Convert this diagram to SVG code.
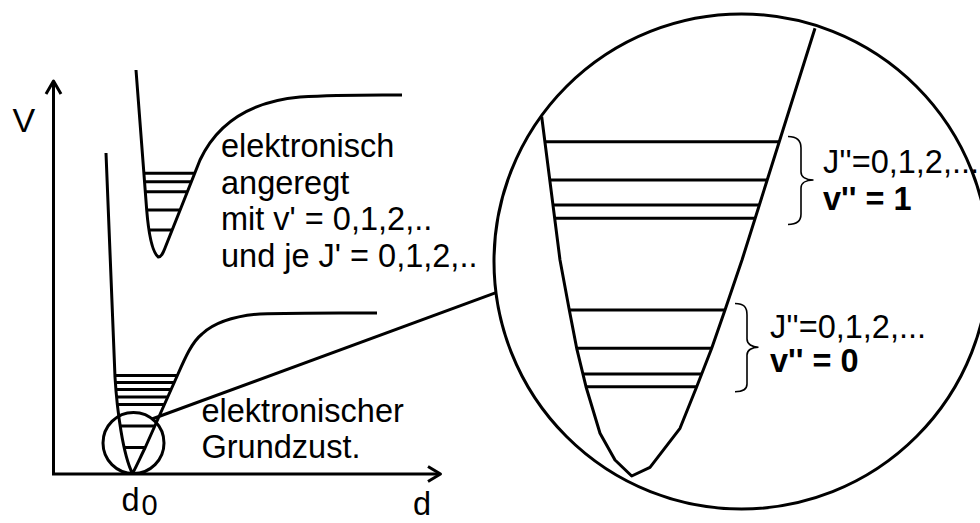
<svg xmlns="http://www.w3.org/2000/svg" width="980" height="523" viewBox="0 0 980 523">
<style>
.ln{fill:none;stroke:#000;stroke-width:3;stroke-linejoin:round;stroke-linecap:butt}
.br{fill:none;stroke:#000;stroke-width:1.6}
.t{font-family:"Liberation Sans",Arial,sans-serif;font-size:32.5px;fill:#000}
.b{font-weight:bold}
</style>
<rect width="980" height="523" fill="#fff"/>
<g id="axes">
<line class="ln" x1="53.5" y1="474" x2="53.5" y2="82"/>
<polyline class="ln" points="46,94 53.5,81 61,94"/>
<line class="ln" x1="52" y1="474" x2="439" y2="474"/>
<polyline class="ln" points="428,466.5 440.5,474 428,481.5"/>
<text class="t" x="12.5" y="131.5" style="font-size:34px">V</text>
<text class="t" x="121.5" y="511">d</text>
<text class="t" x="141.5" y="515" style="font-size:29px">0</text>
<text class="t" x="413" y="515">d</text>
</g>
<g id="excited">
<path class="ln" d="M136,70 L146.7,210 C148.5,232 152,252 158.3,257 C161.5,257 163,253 165,248 L200,160 C215,128 245,102 300,97 C340,94.5 370,95 402,95"/>
<g class="ln">
<line x1="143.5" y1="173.3" x2="195" y2="173.3"/>
<line x1="144.5" y1="181.7" x2="191" y2="181.7"/>
<line x1="145.2" y1="191.7" x2="187" y2="191.7"/>
<line x1="146.7" y1="210" x2="180" y2="210"/>
<line x1="149.3" y1="230" x2="172" y2="230"/>
</g>
<text class="t" x="221" y="157">elektronisch</text>
<text class="t" x="221" y="193.5">angeregt</text>
<text class="t" x="221" y="230">mit v' = 0,1,2,..</text>
<text class="t" x="221" y="266.5">und je J' = 0,1,2,..</text>
</g>
<g id="ground">
<path class="ln" d="M106,153 L115,377 C117,410 123,455 132.5,473.5 C137,465 141,456 145,448 L178,374 C185,358 192,342 202,334 C215,322 235,316 260,314 C300,312.5 340,313 377,313"/>
<g class="ln">
<line x1="115" y1="375.5" x2="177" y2="375.5"/>
<line x1="115.3" y1="382.5" x2="174" y2="382.5"/>
<line x1="115.8" y1="389.5" x2="171" y2="389.5"/>
<line x1="116.4" y1="397" x2="167.7" y2="397"/>
<line x1="117" y1="404.5" x2="164.4" y2="404.5"/>
<line x1="119.5" y1="426" x2="154.8" y2="426"/>
<line x1="124" y1="447.5" x2="145.2" y2="447.5"/>
</g>
<circle class="ln" cx="133.5" cy="443" r="30.5" stroke-width="2.5"/>
<text class="t" x="201.5" y="421.7">elektronischer</text>
<text class="t" x="201.5" y="458.3">Grundzust.</text>
</g>
<g id="connectors">
<line class="ln" x1="152" y1="419" x2="496" y2="292.7" stroke-width="2.5"/>
</g>
<g id="zoom">
<circle class="ln" cx="741.5" cy="261.5" r="247.5"/>
<polyline class="ln" points="541.7,116.7 560,260 569.3,310 576.7,348.3 586,386.7 600,433.3 615,460 631.7,476 650,467.3 680,428.3 696.7,386.7 711.7,348.3 725,310 742,260 815,28.3"/>
<g class="ln">
<line x1="544.7" y1="141.7" x2="779.5" y2="141.7"/>
<line x1="549.5" y1="180" x2="767.5" y2="180"/>
<line x1="552.7" y1="205" x2="759.7" y2="205"/>
<line x1="554.4" y1="218.3" x2="755.5" y2="218.3"/>
<line x1="569.3" y1="310" x2="725" y2="310"/>
<line x1="576.7" y1="348.3" x2="711.7" y2="348.3"/>
<line x1="583" y1="374" x2="701.8" y2="374"/>
<line x1="586" y1="386.7" x2="696.7" y2="386.7"/>
</g>
<path class="br" d="M788,136.5 C797,136.5 801,140 801,148 L801,172 C801,177 806,180 813.5,180 C806,180 801,183 801,188 L801,214 C801,221 797,224.5 788,224.5"/>
<path class="br" d="M735,303.5 C744,303.5 747,307 747,315 L747,339 C747,344 752,347.3 758.5,347.3 C752,347.3 747,350 747,355 L747,384 C747,389 744,391.7 735,391.7"/>
<text class="t" x="823" y="173.3">J''=0,1,2,...</text>
<text class="t b" x="823" y="210">v'' = 1</text>
<text class="t" x="770" y="338.3">J''=0,1,2,...</text>
<text class="t b" x="770" y="371.7">v'' = 0</text>
</g>
</svg>
